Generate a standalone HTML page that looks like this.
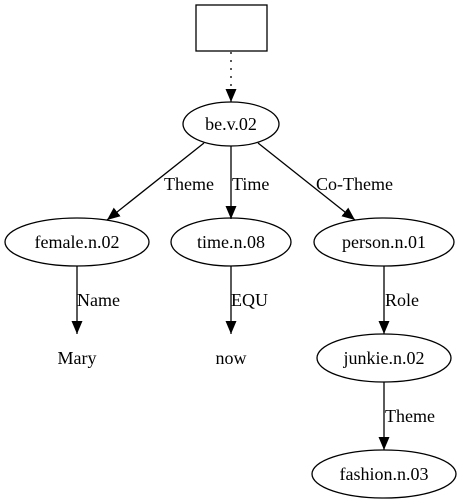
<!DOCTYPE html>
<html><head><meta charset="utf-8"><style>
html,body{margin:0;padding:0;background:#fff;}
svg{display:block;}
text{font-family:"Liberation Serif",serif;font-size:18px;fill:#000;}
</style></head><body>
<svg width="463" height="504" viewBox="0 0 463 504" xmlns="http://www.w3.org/2000/svg">
<defs>
<marker id="a" markerWidth="13" markerHeight="11" refX="13" refY="5.5" orient="auto" markerUnits="userSpaceOnUse">
<path d="M0,0 L13,5.5 L0,11 z" fill="#000"/>
</marker>
</defs>
<g fill="none" stroke="#000" stroke-width="1.3">
<rect x="196" y="5" width="71" height="46" fill="#fff"/>
<line x1="231" y1="52" x2="231" y2="102" stroke-dasharray="2,6" marker-end="url(#a)"/>
<ellipse cx="231" cy="124" rx="48" ry="22"/>
<line x1="204" y1="143" x2="107" y2="220" marker-end="url(#a)"/>
<line x1="231" y1="146" x2="231" y2="219" marker-end="url(#a)"/>
<line x1="258" y1="143" x2="355" y2="220" marker-end="url(#a)"/>
<ellipse cx="77" cy="242" rx="72" ry="24"/>
<ellipse cx="231" cy="242" rx="60" ry="24"/>
<ellipse cx="384" cy="242" rx="70" ry="24"/>
<line x1="77" y1="266" x2="77" y2="334" marker-end="url(#a)"/>
<line x1="231" y1="266" x2="231" y2="334" marker-end="url(#a)"/>
<line x1="384" y1="266" x2="384" y2="334" marker-end="url(#a)"/>
<ellipse cx="384" cy="358" rx="67" ry="24"/>
<line x1="384" y1="382" x2="384" y2="450" marker-end="url(#a)"/>
<ellipse cx="384" cy="474" rx="72" ry="24"/>
</g>
<g text-anchor="middle">
<text x="231" y="130">be.v.02</text>
<text x="77" y="248">female.n.02</text>
<text x="231" y="248">time.n.08</text>
<text x="384" y="248">person.n.01</text>
<text x="77" y="364">Mary</text>
<text x="231" y="364">now</text>
<text x="384" y="364">junkie.n.02</text>
<text x="384" y="480">fashion.n.03</text>
</g>
<g>
<text x="164" y="190">Theme</text>
<text x="232" y="190">Time</text>
<text x="316" y="190">Co-Theme</text>
<text x="77" y="306">Name</text>
<text x="231" y="306">EQU</text>
<text x="385" y="306">Role</text>
<text x="385" y="422">Theme</text>
</g>
</svg>
</body></html>
